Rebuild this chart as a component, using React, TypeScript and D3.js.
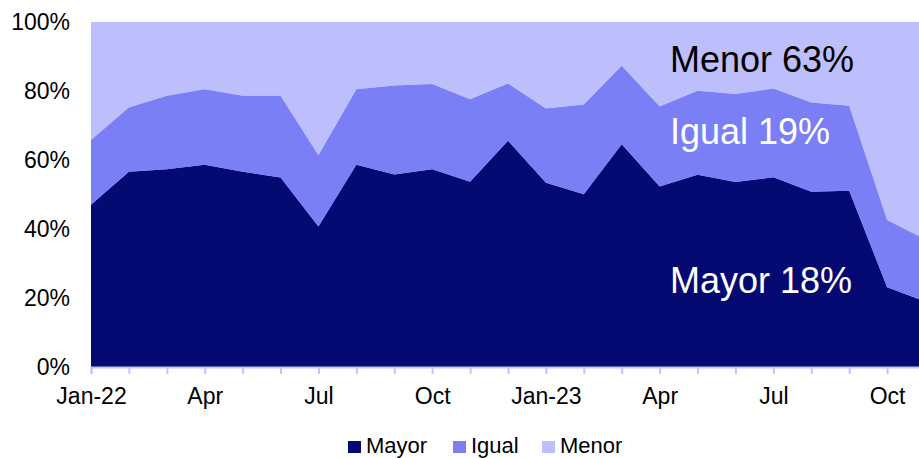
import React, { useEffect, useRef } from 'react'
import * as d3 from 'd3'

const months = [
  'Jan-22', 'Feb-22', 'Mar-22', 'Apr-22', 'May-22', 'Jun-22', 'Jul-22', 'Aug-22', 'Sep-22', 'Oct-22', 'Nov-22', 'Dec-22',
  'Jan-23', 'Feb-23', 'Mar-23', 'Apr-23', 'May-23', 'Jun-23', 'Jul-23', 'Aug-23', 'Sep-23', 'Oct-23', 'Nov-23'
]
const tickLabels: { [k: string]: string } = {
  'Jan-22': 'Jan-22', 'Apr-22': 'Apr', 'Jul-22': 'Jul', 'Oct-22': 'Oct',
  'Jan-23': 'Jan-23', 'Apr-23': 'Apr', 'Jul-23': 'Jul', 'Oct-23': 'Oct'
}

const mayor = [47.0, 56.6, 57.3, 58.6, 56.6, 54.9, 40.7, 58.6, 55.8, 57.3, 53.7, 65.6,
  53.4, 50.1, 64.6, 52.3, 55.7, 53.6, 55.0, 50.8, 51.1, 23.1, 19.0]
const igual = [18.8, 18.6, 21.3, 21.9, 22.0, 23.7, 20.7, 21.9, 25.8, 24.7, 23.9, 16.6,
  21.5, 26.0, 22.7, 23.2, 24.4, 25.5, 25.7, 25.9, 24.6, 19.5, 18.0]
const menor = [34.2, 24.8, 21.4, 19.5, 21.4, 21.4, 38.6, 19.5, 18.4, 18.0, 22.4, 17.8,
  25.1, 23.9, 12.7, 24.5, 19.9, 20.9, 19.3, 23.3, 24.3, 57.4, 63.0]

const seriesKeys = ['Mayor', 'Igual', 'Menor']
const colors = ['#040a72', '#7b7ff6', '#bdbefc']
const yTicks = [0, 20, 40, 60, 80, 100]

// in-chart labels, placed at a value on the y scale (baseline)
const annotations = [
  { text: 'Menor 63%', at: 85.5, color: '#000' },
  { text: 'Igual 19%', at: 64.6, color: '#fff' },
  { text: 'Mayor 18%', at: 21.4, color: '#fff' }
]

const width = 919
const height = 458
const margin = { top: 22, left: 91, bottom: 91 }
const plotRight = 925

export default function App() {
  const axisX = useRef<SVGGElement>(null)
  const axisY = useRef<SVGGElement>(null)

  const x = d3.scalePoint<string>().domain(months).range([margin.left, plotRight])
  const y = d3.scaleLinear().domain([0, 100]).range([height - margin.bottom, margin.top])

  const rows = months.map((m, i) => ({ month: m, Mayor: mayor[i], Igual: igual[i], Menor: menor[i] }))
  const stacked = d3.stack<any>().keys(seriesKeys)(rows)
  const area = d3.area<any>()
    .x(d => x(d.data.month) as number)
    .y0(d => y(d[0]))
    .y1(d => y(d[1]))

  useEffect(() => {
    const xa = d3.axisBottom(x)
      .tickSize(7)
      .tickFormat(d => tickLabels[d as string] || '')
    d3.select(axisX.current).call(xa as any)
    d3.select(axisX.current).select('.domain').attr('stroke', '#c4c4f8').attr('stroke-width', 2)
    d3.select(axisX.current).selectAll('.tick line').attr('stroke', '#c4c4f8').attr('stroke-width', 2)
    d3.select(axisX.current).selectAll('.tick text')
      .attr('dy', 0).attr('y', 37)
      .attr('fill', '#000')
      .style('font-size', '23px')
      .style('font-family', 'Liberation Sans, Arial, sans-serif')

    const ya = d3.axisLeft(y).tickValues(yTicks).tickSize(0).tickPadding(21)
      .tickFormat(d => d + '%')
    d3.select(axisY.current).call(ya as any)
    d3.select(axisY.current).select('.domain').remove()
    d3.select(axisY.current).selectAll('.tick text')
      .attr('fill', '#000')
      .style('font-size', '23px')
      .style('font-family', 'Liberation Sans, Arial, sans-serif')
  }, [])

  const legendX = [348, 453, 542]

  return (
    <svg width={width} height={height} style={{ position: 'absolute', left: 0, top: 0 }}
      fontFamily="Liberation Sans, Arial, sans-serif">
      <rect x={margin.left} y={margin.top} width={width - margin.left} height={y(0) - margin.top} fill={colors[2]} />
      {stacked.map((s, i) => (
        <path key={s.key} d={area(s) || ''} fill={colors[i]} />
      ))}
      <g ref={axisX} transform={`translate(0,${y(0)})`} />
      <g ref={axisY} transform={`translate(${margin.left},0)`} />
      {annotations.map(a => (
        <text key={a.text} x={670} y={y(a.at)} fontSize={36} fill={a.color}>{a.text}</text>
      ))}
      {seriesKeys.map((k, i) => (
        <g key={k} transform={`translate(${legendX[i]},0)`}>
          <rect x={0} y={441} width={13} height={12} fill={colors[i]} />
          <text x={18} y={453} fontSize={22} fill="#000">{k}</text>
        </g>
      ))}
    </svg>
  )
}
